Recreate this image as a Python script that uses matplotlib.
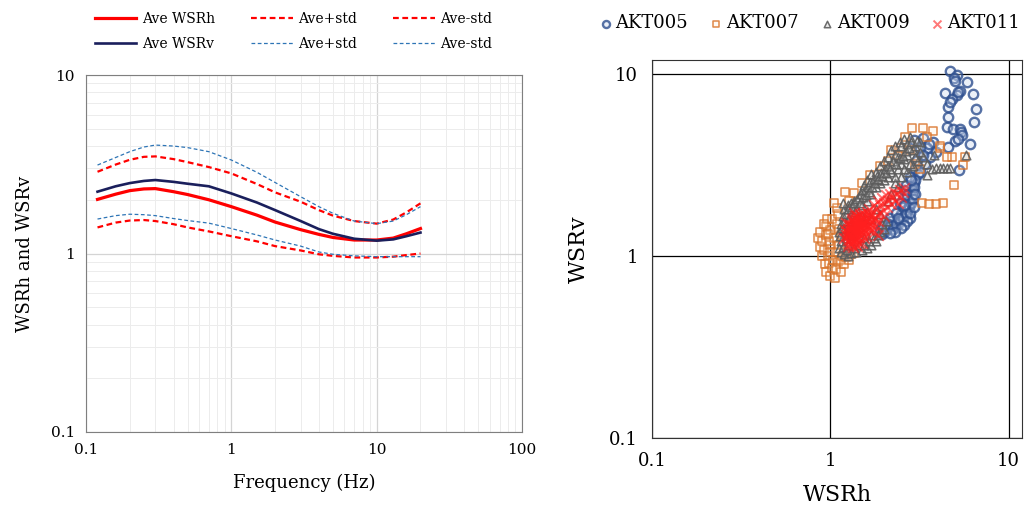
import matplotlib
matplotlib.use('Agg')

import matplotlib.pyplot as plt
from matplotlib.ticker import LogLocator, FuncFormatter, NullFormatter

plt.rcParams['font.family'] = ['DejaVu Serif']

# average spectral ratios vs frequency
freq = [0.12, 0.16, 0.2, 0.25, 0.3, 0.4, 0.5, 0.7, 1.0, 1.5, 2.0, 3.0, 4.0, 5.0, 7.0, 10, 13, 16, 20]
ave_h = [2.01, 2.15, 2.25, 2.30, 2.31, 2.22, 2.14, 2.00, 1.83, 1.64, 1.50, 1.36, 1.28, 1.23, 1.19, 1.19, 1.22, 1.29, 1.38]
ave_v = [2.22, 2.38, 2.48, 2.55, 2.58, 2.52, 2.46, 2.38, 2.17, 1.93, 1.75, 1.52, 1.37, 1.29, 1.21, 1.18, 1.20, 1.25, 1.31]
hi_h = [2.87, 3.15, 3.35, 3.48, 3.50, 3.38, 3.25, 3.05, 2.81, 2.45, 2.20, 1.95, 1.75, 1.63, 1.52, 1.47, 1.55, 1.70, 1.91]
hi_v = [3.13, 3.45, 3.72, 3.95, 4.05, 4.00, 3.92, 3.72, 3.34, 2.85, 2.50, 2.08, 1.83, 1.68, 1.52, 1.47, 1.52, 1.65, 1.83]
lo_h = [1.40, 1.49, 1.53, 1.54, 1.52, 1.46, 1.40, 1.33, 1.25, 1.17, 1.10, 1.04, 0.99, 0.97, 0.95, 0.95, 0.96, 0.98, 1.00]
lo_v = [1.56, 1.63, 1.66, 1.65, 1.63, 1.57, 1.53, 1.48, 1.38, 1.27, 1.19, 1.10, 1.02, 0.99, 0.97, 0.96, 0.96, 0.96, 0.96]

# WSRh / WSRv pairs per station
akt005_h = [4.70, 5.13, 4.95, 5.83, 5.01, 5.35, 4.41, 5.13, 4.80, 6.35, 5.20, 6.57, 4.60, 4.70, 4.60, 6.40,
            4.50, 4.85, 5.35, 5.40, 5.00, 6.04, 4.60, 5.24, 5.50, 5.20,
            2.93, 3.33, 3.79, 3.48, 3.63, 3.06, 3.90, 3.20, 3.00, 3.40, 3.10, 2.93, 2.87, 2.69, 2.36, 2.08,
            1.90, 2.47, 2.80, 2.26, 2.60, 2.75, 2.50, 2.20, 2.00, 2.40, 2.90, 2.65, 3.00, 2.15, 2.55, 2.35,
            2.70, 3.30, 3.60, 2.80, 3.20, 2.45, 1.95, 2.10,
            1.95, 2.05, 2.15, 2.25, 2.35, 2.45, 2.55, 2.65, 2.75, 2.85, 2.90, 2.95, 2.85, 2.70, 2.60, 2.50,
            2.30, 2.15, 2.80, 2.92, 3.00, 2.95, 2.40, 2.60]
akt005_v = [10.3, 9.9, 9.5, 9.0, 9.1, 8.0, 7.8, 7.6, 7.3, 7.7, 7.9, 6.4, 6.6, 7.0, 5.8, 5.4,
            5.1, 5.0, 5.0, 4.8, 4.3, 4.1, 3.96, 2.97, 4.6, 4.4,
            4.34, 4.43, 4.24, 3.90, 3.51, 3.37, 3.70, 3.90, 3.00, 3.20, 2.80, 2.51, 2.12, 1.79, 1.58, 1.42,
            1.39, 1.95, 1.61, 1.45, 2.30, 2.00, 1.70, 1.55, 1.35, 1.50, 2.30, 2.45, 2.60, 1.62, 1.85, 1.72,
            2.15, 3.60, 4.10, 2.70, 2.90, 1.60, 1.45, 1.50,
            1.32, 1.38, 1.45, 1.40, 1.50, 1.55, 1.62, 1.70, 1.85, 1.95, 2.20, 2.40, 2.60, 1.55, 1.48, 1.42,
            1.35, 1.33, 1.72, 2.05, 2.20, 1.85, 1.62, 1.90]

akt007_h = [0.85, 0.87, 0.88, 0.90, 0.90, 0.92, 0.93, 0.94, 0.95, 0.95, 0.97, 0.98, 1.00, 1.00, 1.00, 1.02,
            1.02, 1.04, 1.05, 1.06, 1.07, 1.08, 1.09, 1.10, 1.10, 1.12, 1.14, 1.15, 1.17, 1.20, 1.22, 1.25,
            1.28, 1.30, 1.35, 1.09, 1.12, 0.96, 1.05, 0.98, 0.92, 1.15, 1.00, 0.97,
            1.21, 1.35, 1.28, 1.68, 1.91, 2.10, 2.40, 2.63, 2.87, 3.33, 3.79, 2.80, 4.13, 4.13, 4.80, 4.50,
            5.70, 5.57, 4.92, 4.30, 3.90, 3.27, 3.60, 3.00, 3.50, 2.50, 1.50, 2.20, 3.20]
akt007_v = [1.25, 1.12, 1.35, 1.00, 1.20, 1.08, 0.90, 1.30, 0.82, 1.45, 1.00, 0.91, 0.78, 1.15, 1.38, 0.86,
            1.60, 0.95, 1.25, 0.76, 1.05, 0.85, 1.50, 0.92, 1.70, 1.15, 0.95, 0.82, 1.00, 0.90, 0.98, 1.05,
            0.95, 1.02, 1.04, 1.83, 1.40, 1.60, 1.95, 1.20, 1.50, 1.30, 1.05, 1.32,
            2.25, 2.21, 2.00, 2.78, 3.10, 3.30, 3.60, 4.52, 5.03, 5.03, 4.82, 3.82, 3.90, 3.99, 3.51, 3.51,
            3.51, 3.16, 2.45, 1.95, 1.93, 1.95, 1.92, 3.20, 4.50, 3.90, 2.50, 3.80, 3.00]

akt009_h = [1.15, 1.20, 1.25, 1.30, 1.40, 1.50, 1.60, 1.70, 1.80, 1.15, 1.12, 1.15, 1.18, 1.20, 1.25, 1.30,
            1.35, 1.45, 1.50, 1.55, 1.60, 1.70, 1.80, 1.90, 2.00, 2.10, 2.20, 2.30, 2.45, 2.60, 2.80,
            1.60, 1.70, 1.80, 1.90, 2.00, 2.10, 2.20, 2.40, 2.50, 2.60, 2.70, 2.90, 3.00, 2.30, 2.50, 2.70,
            2.90, 3.10, 3.30, 3.50, 3.70, 3.90, 4.10, 4.30, 4.50, 4.70, 3.48, 1.90, 2.00, 1.70, 1.80, 1.90,
            2.10, 2.20, 2.40, 1.40, 1.30, 1.50, 1.60, 1.25, 1.20, 1.30, 1.70, 2.30, 2.60, 2.80, 3.00, 3.20,
            2.40, 2.20, 2.00, 1.85, 2.50, 2.30, 5.80, 3.80, 3.20, 2.70, 1.45, 1.35, 1.55,
            1.12, 1.14, 1.16, 1.18, 1.20, 1.22, 1.22, 1.24, 1.26, 1.28, 1.32, 1.36, 1.38, 1.42, 1.46, 1.48,
            1.52, 1.56, 1.58, 1.62, 1.65, 1.68, 1.72, 1.75, 1.78, 1.82, 1.86, 1.92, 1.96, 2.02, 2.06, 2.12,
            2.16, 2.25, 2.35, 2.45, 2.55, 2.65, 2.75, 2.85, 3.05, 1.65, 1.75, 1.85, 1.55, 1.95, 2.05, 1.25,
            1.18, 1.50]
akt009_v = [1.05, 1.02, 1.00, 1.04, 1.05, 1.08, 1.10, 1.15, 1.20, 1.20, 1.35, 1.50, 1.65, 1.80, 1.90, 1.95,
            2.00, 2.10, 2.30, 2.45, 2.60, 2.80, 2.90, 3.10, 3.30, 3.50, 3.80, 4.00, 4.20, 4.40, 4.50,
            2.00, 2.20, 2.40, 2.50, 2.60, 2.70, 2.90, 3.00, 3.20, 3.40, 3.60, 3.80, 4.00, 2.50, 2.70, 2.90,
            3.10, 3.30, 3.50, 3.20, 3.00, 3.02, 3.02, 3.02, 3.02, 3.05, 2.78, 1.35, 1.40, 1.60, 1.80, 1.70,
            2.00, 2.20, 2.40, 1.80, 1.70, 1.90, 1.75, 1.55, 1.40, 1.30, 1.30, 2.70, 3.00, 3.20, 3.50, 3.70,
            3.50, 3.20, 2.90, 2.60, 4.00, 3.60, 3.60, 3.60, 4.20, 4.10, 1.15, 1.10, 1.25,
            1.10, 1.28, 1.42, 1.12, 1.55, 1.70, 1.25, 1.08, 1.82, 1.62, 1.85, 1.95, 1.75, 2.05, 1.95, 2.20,
            2.10, 2.30, 2.15, 2.40, 2.25, 2.55, 2.40, 2.65, 2.50, 2.75, 2.65, 2.85, 2.75, 3.00, 2.85, 3.10,
            3.00, 3.30, 3.20, 3.45, 3.55, 3.75, 3.90, 4.20, 4.30, 1.20, 1.25, 1.30, 1.15, 1.50, 1.55, 1.15,
            1.95, 1.65]

akt011_h = [1.22, 1.25, 1.25, 1.28, 1.28, 1.28, 1.30, 1.30, 1.32, 1.32, 1.32, 1.34, 1.34, 1.35, 1.36, 1.36,
            1.38, 1.38, 1.40, 1.40, 1.41, 1.42, 1.43, 1.44, 1.45, 1.46, 1.47, 1.48, 1.50, 1.50, 1.52, 1.53,
            1.55, 1.56, 1.58, 1.60, 1.62, 1.65, 1.70, 1.55, 1.45, 1.35,
            1.24, 1.26, 1.27, 1.29, 1.29, 1.31, 1.31, 1.33, 1.33, 1.33, 1.35, 1.35, 1.37, 1.37, 1.37, 1.39,
            1.39, 1.41, 1.41, 1.43, 1.43, 1.45, 1.45, 1.47, 1.47, 1.49, 1.49, 1.51, 1.51, 1.53, 1.54, 1.56,
            1.57, 1.59, 1.61, 1.63, 1.66, 1.68, 1.30, 1.40,
            1.20, 1.21, 1.23, 1.26, 1.34, 1.42, 1.50, 1.58, 1.64, 1.72, 1.78, 1.82,
            1.65, 1.70, 1.75, 1.78, 1.80, 1.85, 1.88, 1.90, 1.95, 1.98, 2.00, 2.05, 2.08, 2.10, 2.15, 2.20,
            2.22, 2.28, 2.32, 2.38, 2.45, 2.50, 2.55, 2.60, 2.40, 2.00, 1.72, 1.85, 1.75, 1.85, 1.80]
akt011_v = [1.30, 1.22, 1.40, 1.18, 1.32, 1.50, 1.25, 1.42, 1.15, 1.36, 1.55, 1.28, 1.47, 1.20, 1.38, 1.62,
            1.30, 1.52, 1.22, 1.44, 1.66, 1.35, 1.55, 1.27, 1.46, 1.70, 1.38, 1.60, 1.30, 1.50, 1.72, 1.42,
            1.62, 1.35, 1.52, 1.75, 1.45, 1.60, 1.38, 1.25, 1.18, 1.72,
            1.35, 1.28, 1.45, 1.38, 1.22, 1.48, 1.32, 1.26, 1.42, 1.60, 1.34, 1.52, 1.26, 1.45, 1.66, 1.36,
            1.58, 1.28, 1.50, 1.40, 1.64, 1.32, 1.55, 1.44, 1.68, 1.36, 1.56, 1.46, 1.64, 1.52, 1.38, 1.58,
            1.46, 1.66, 1.55, 1.70, 1.50, 1.65, 1.18, 1.16,
            1.25, 1.38, 1.52, 1.14, 1.12, 1.13, 1.18, 1.28, 1.38, 1.48, 1.58, 1.68,
            1.80, 1.70, 1.90, 1.62, 1.82, 2.00, 1.72, 1.90, 2.08, 1.78, 1.95, 2.15, 1.85, 2.02, 2.20, 1.92,
            2.10, 2.25, 2.00, 2.18, 2.30, 2.10, 2.25, 2.35, 1.95, 1.65, 1.55, 1.55, 1.35, 1.30, 1.45]

fig = plt.figure(figsize=(10.35, 5.11), dpi=100)
ax1 = fig.add_axes([0.0831, 0.1546, 0.4213, 0.6986])
ax2 = fig.add_axes([0.630, 0.1429, 0.3575, 0.7397])

fmt = FuncFormatter(lambda v, _: f'{v:g}')

# --- left: average WSR curves ---
ax1.set_xscale('log')
ax1.set_yscale('log')
ax1.plot(freq, ave_h, color='#ff0000', lw=2.3, label='Ave WSRh')
ax1.plot(freq, ave_v, color='#1a1f5c', lw=1.9, label='Ave WSRv')
ax1.plot(freq, hi_h, color='#ff0000', lw=1.6, dashes=(2.6, 1.6), label='Ave+std')
ax1.plot(freq, hi_v, color='#2e75b6', lw=0.9, dashes=(3.0, 2.0), label='Ave+std')
ax1.plot(freq, lo_h, color='#ff0000', lw=1.6, dashes=(2.6, 1.6), label='Ave-std')
ax1.plot(freq, lo_v, color='#2e75b6', lw=0.9, dashes=(3.0, 2.0), label='Ave-std')
ax1.set_xlim(0.1, 100)
ax1.set_ylim(0.1, 10)
ax1.xaxis.set_major_formatter(fmt)
ax1.yaxis.set_major_formatter(fmt)
ax1.xaxis.set_minor_formatter(NullFormatter())
ax1.yaxis.set_minor_formatter(NullFormatter())
ax1.xaxis.set_minor_locator(LogLocator(subs=range(2, 10)))
ax1.yaxis.set_minor_locator(LogLocator(subs=range(2, 10)))
ax1.grid(which='major', color='#d4d4d4', lw=0.9)
ax1.grid(which='minor', color='#ececec', lw=0.7)
ax1.set_axisbelow(True)
ax1.tick_params(which='both', length=0, labelsize=11, pad=8)
for s in ax1.spines.values():
    s.set_color('#7f7f7f')
ax1.set_xlabel('Frequency (Hz)', fontsize=13, labelpad=12)
ax1.set_ylabel('WSRh and WSRv', fontsize=13, labelpad=12)

fig.legend(*ax1.get_legend_handles_labels(), ncol=3, frameon=False,
           loc='upper left', bbox_to_anchor=(0.082, 0.995), fontsize=10,
           handlelength=3.0, handletextpad=0.4, columnspacing=2.6, labelspacing=0.75,
           borderpad=0.2)

# --- right: WSRv vs WSRh scatter ---
ax2.set_xscale('log')
ax2.set_yscale('log')
ax2.scatter(akt005_h, akt005_v, s=46, marker='o', facecolors=(0.78, 0.83, 0.92, 0.35),
            edgecolors=(0.18, 0.31, 0.56, 0.8), linewidths=1.7, label='AKT005')
ax2.scatter(akt007_h, akt007_v, s=38, marker='s', facecolors=(1, 0.9, 0.8, 0.2),
            edgecolors=(0.85, 0.45, 0.16, 0.85), linewidths=1.1, label='AKT007')
ax2.scatter(akt009_h, akt009_v, s=38, marker='^', facecolors=(0.7, 0.7, 0.7, 0.25),
            edgecolors=(0.36, 0.36, 0.36, 0.9), linewidths=1.1, label='AKT009')
ax2.scatter(akt011_h, akt011_v, s=58, marker='x', color=(1, 0.12, 0.12, 0.6),
            linewidths=1.4, label='AKT011')
ax2.set_xlim(0.1, 11.9)
ax2.set_ylim(0.1, 11.9)
ax2.xaxis.set_major_formatter(fmt)
ax2.yaxis.set_major_formatter(fmt)
ax2.xaxis.set_minor_formatter(NullFormatter())
ax2.yaxis.set_minor_formatter(NullFormatter())
ax2.minorticks_off()
ax2.grid(which='major', color='black', lw=0.9)
ax2.set_axisbelow(True)
ax2.tick_params(which='both', length=0, labelsize=13, pad=10)
for s in ax2.spines.values():
    s.set_color('#333333')
ax2.set_xlabel('WSRh', fontsize=16, labelpad=10)
ax2.set_ylabel('WSRv', fontsize=16, labelpad=14)

fig.legend(*ax2.get_legend_handles_labels(), ncol=4, frameon=False,
           loc='upper left', bbox_to_anchor=(0.566, 1.0), fontsize=13,
           handlelength=0.6, handletextpad=0.25, columnspacing=1.25,
           borderpad=0.3, markerscale=0.75)

plt.savefig('out.png', dpi=100)
